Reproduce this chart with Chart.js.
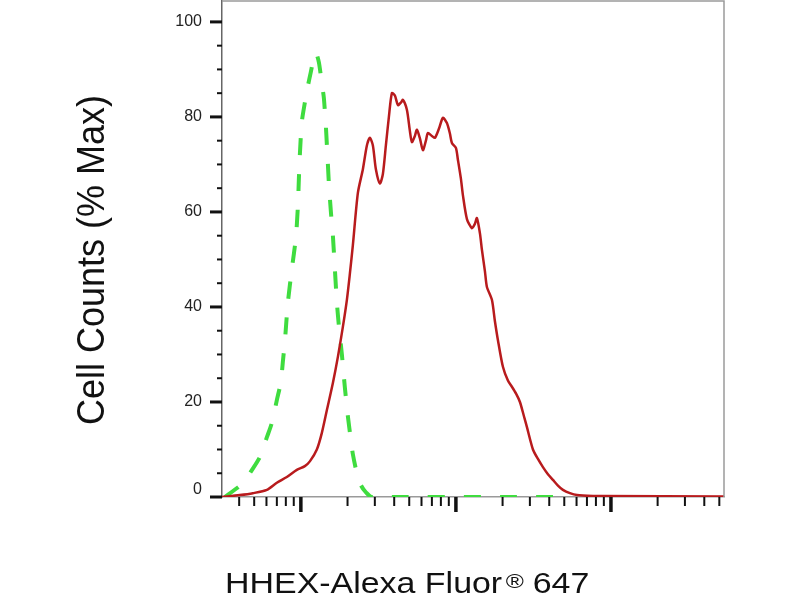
<!DOCTYPE html>
<html>
<head>
<meta charset="utf-8">
<script src="https://cdn.jsdelivr.net/npm/chart.js@4"></script>
<style>
html, body { margin: 0; padding: 0; background: #fff; }
</style>
</head>
<body>
<canvas id="histChart" width="800" height="600"></canvas>
<script>
// HHEX stained sample (red, solid)
const sampleX = [31, 40.4, 49.0, 60.4, 70.0, 81.2, 94.2, 106.1, 114.3, 126.8, 136.6, 147.2, 160.9, 173.3, 186.6, 198.1, 207.1, 216.5, 233.2, 251.2, 266.6, 278.7, 291.4, 304.7, 323.4, 338.1, 353.5, 369.6, 386.5, 404.1, 422.5, 441.7, 455.1, 482.9, 505.0, 520.2, 543.9, 560.3, 585.9, 612.5, 640.5, 659.8, 700.2, 732.1, 776.9, 824.5, 875.0, 914.8, 942.5, 1000, 1030, 1077, 1110, 1178, 1268, 1326, 1366, 1429, 1472, 1539, 1585, 1707, 1785, 1867, 2010, 2165, 2298, 2439, 2588, 2747, 2872, 3140, 3382, 3642, 3923, 4225, 4551, 4902, 5437, 6035, 7657, 8749, 53600];
const sampleY = [0, 0.4, 0.8, 1.5, 3, 4.2, 5.7, 6.5, 7.5, 10, 13.5, 18.3, 24, 29.5, 35.8, 41.5, 47, 53, 64, 69, 74, 75.6, 74, 69, 66, 68, 74, 80, 85, 84.5, 82.5, 83, 83.6, 81.5, 77, 74.7, 76, 77.3, 75.5, 73, 75, 76.6, 76, 75.6, 77.5, 79.8, 78.7, 76.5, 74.5, 73.5, 71, 67, 63.5, 58.5, 56.6, 57.5, 58.7, 55.5, 52, 47.5, 44.2, 41.5, 37, 33, 27.4, 24.5, 23.2, 21.8, 20, 17, 14.7, 10, 8, 6.3, 4.8, 3.6, 2.4, 1.5, 0.8, 0.4, 0.2, 0.2, 0.1];

// isotype control (green, dashed)
const controlX = [32.3, 39.2, 43.5, 46.9, 54.4, 60.4, 65.0, 70.0, 74.3, 76.5, 78.8, 82.4, 87.5, 92.8, 95.6, 97.1, 98.5, 101.5, 106.1, 111.0, 116.0, 121.3, 125.0, 130.7, 136.6, 140.7, 145.0, 147.2, 149.4, 151.6, 156.2, 160.9, 165.7, 170.7, 175.9, 183.9, 192.3, 201.0, 210.2, 216.5, 229.8, 243.9, 262.6, 287.1, 4688];
const controlY = [0, 2, 3.3, 5, 8.4, 12.6, 15.6, 20.4, 24.2, 28.4, 32.6, 40.8, 48, 54.5, 61, 67, 72, 79, 83, 86.5, 89.5, 92.5, 93.5, 91.5, 87, 84, 78, 74, 70, 66, 60, 55, 48, 41, 36, 30, 23, 17, 12, 9, 5, 2.5, 1, 0, 0];

// axis ticks
const yTickLabels = [0, 20, 40, 60, 80, 100];
const yMinorTicks = [5, 10, 15, 25, 30, 35, 45, 50, 55, 65, 70, 75, 85, 90, 95];
const xMajorTicks = [100, 1000, 10000];
const xMinorTicks = [40, 50, 60, 70, 80, 90, 200, 300, 400, 500, 600, 700, 800, 900, 2000, 3000, 4000, 5000, 6000, 7000, 8000, 9000, 20000, 30000, 40000, 50000];

const FONT = '"Liberation Sans", Arial, sans-serif';

function toPoints(xs, ys) {
    return xs.map((x, i) => ({ x: x, y: ys[i] }));
}

// frame and tick marks, placed through the chart scales
const axisTicks = {
    id: 'axisTicks',
    afterDraw(chart) {
        const { ctx, chartArea: a, scales: { x, y } } = chart;
        ctx.save();
        ctx.strokeStyle = '#9a9a9a';
        ctx.lineWidth = 1.5;
        ctx.beginPath();
        ctx.moveTo(a.left, a.top);
        ctx.lineTo(a.right, a.top);
        ctx.lineTo(a.right, a.bottom);
        ctx.stroke();

        ctx.strokeStyle = '#111';
        yTickLabels.concat(yMinorTicks).forEach(v => {
            const major = yTickLabels.includes(v);
            const p = y.getPixelForValue(v);
            ctx.lineWidth = major ? 3 : 2;
            ctx.beginPath();
            ctx.moveTo(a.left - (major ? 12 : 5), p);
            ctx.lineTo(a.left, p);
            ctx.stroke();
        });
        xMajorTicks.concat(xMinorTicks).forEach(v => {
            const major = xMajorTicks.includes(v);
            const p = x.getPixelForValue(v);
            ctx.lineWidth = major ? 3.5 : 2;
            ctx.beginPath();
            ctx.moveTo(p, a.bottom);
            ctx.lineTo(p, a.bottom + (major ? 15 : 9));
            ctx.stroke();
        });
        ctx.restore();
    }
};

// axis titles (x title has a raised ® sign)
const axisTitles = {
    id: 'axisTitles',
    afterDraw(chart) {
        const ctx = chart.ctx;
        ctx.save();
        ctx.fillStyle = '#111';
        ctx.textBaseline = 'alphabetic';
        ctx.textAlign = 'left';

        ctx.save();
        ctx.translate(225, 593);
        ctx.scale(1.17, 1);
        ctx.font = '29px ' + FONT;
        ctx.fillText('HHEX-Alexa Fluor', 0, 0);
        ctx.font = '21px ' + FONT;
        ctx.fillText('®', 240, -5);
        ctx.font = '29px ' + FONT;
        ctx.fillText('647', 263, 0);
        ctx.restore();

        ctx.save();
        ctx.font = '39px ' + FONT;
        const txt = 'Cell Counts (% Max)';
        const w = ctx.measureText(txt).width;
        ctx.translate(104, 425);
        ctx.rotate(-Math.PI / 2);
        ctx.scale(330 / w, 1);
        ctx.fillText(txt, 0, 0);
        ctx.restore();

        ctx.restore();
    }
};

const ctx = document.getElementById('histChart').getContext('2d');
new Chart(ctx, {
    type: 'line',
    data: {
        datasets: [{
            label: 'HHEX',
            data: toPoints(sampleX, sampleY),
            borderColor: '#b81b1d',
            borderWidth: 2.5,
            pointRadius: 0,
            tension: 0.25,
            fill: false
        }, {
            label: 'Isotype control',
            data: toPoints(controlX, controlY),
            borderColor: '#3fdc3f',
            borderWidth: 4,
            borderDash: [17, 19],
            pointRadius: 0,
            tension: 0.25,
            fill: false
        }]
    },
    options: {
        responsive: false,
        animation: false,
        layout: { padding: { top: 1, right: 76, left: 0, bottom: 0 } },
        plugins: {
            legend: { display: false },
            tooltip: { enabled: false }
        },
        scales: {
            x: {
                type: 'logarithmic',
                min: 31,
                max: 53600,
                ticks: { display: false },
                grid: { display: false, drawTicks: false },
                border: { display: true, color: '#9a9a9a', width: 1.5 },
                afterFit: s => {
                    s.height = 103;
                    s.paddingLeft = 0;
                    s.paddingRight = 0;
                }
            },
            y: {
                min: 0,
                max: 104.4,
                afterBuildTicks: s => { s.ticks = yTickLabels.map(v => ({ value: v })); },
                ticks: {
                    padding: 20,
                    color: '#222',
                    font: { family: FONT, size: 16, lineHeight: 0.9 },
                    callback: v => v === 0 ? ['0', ''] : String(v)
                },
                grid: { display: false, drawTicks: false },
                border: { display: true, color: '#666', width: 1.5 },
                afterFit: s => {
                    s.width = 222;
                    s.paddingTop = 0;
                    s.paddingBottom = 0;
                }
            }
        }
    },
    plugins: [axisTicks, axisTitles]
});
</script>
</body>
</html>
